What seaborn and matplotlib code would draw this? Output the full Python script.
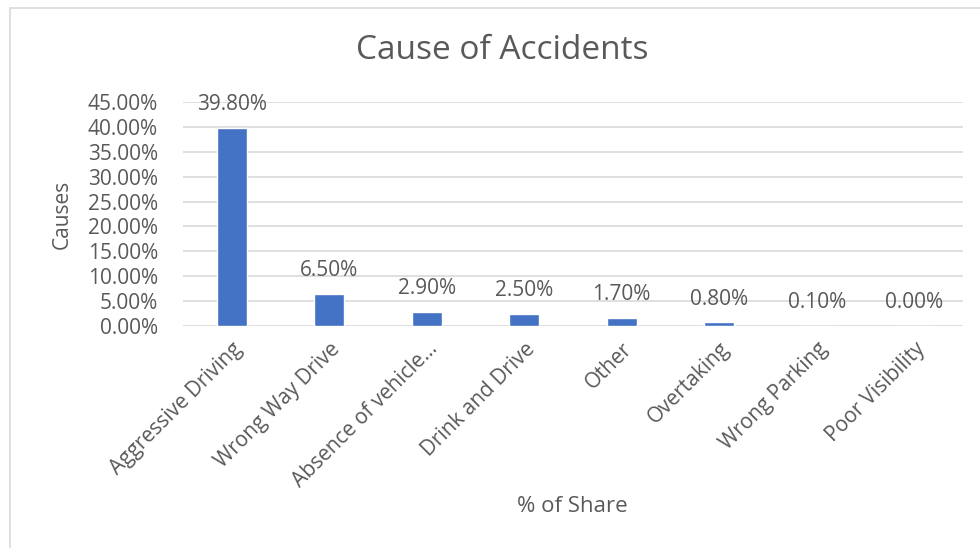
import matplotlib
matplotlib.use("Agg")
import matplotlib.pyplot as plt
from matplotlib.patches import Rectangle
from matplotlib.ticker import FuncFormatter, MultipleLocator
import seaborn as sns
import pandas as pd

# Share of accidents by cause (percent)
causes = ["Aggressive Driving", "Wrong Way Drive", "Absence of vehicle…",
          "Drink and Drive", "Other", "Overtaking", "Wrong Parking",
          "Poor Visibility"]
shares = [39.80, 6.50, 2.90, 2.50, 1.70, 0.80, 0.10, 0.00]

df = pd.DataFrame({"cause": causes, "share": shares})

sns.set_theme(style="white")
plt.rcParams["font.family"] = ["Open Sans", "DejaVu Sans"]

TEXT = "#595959"
GRID = "#d9d9d9"
BAR = "#4472c4"

fig = plt.figure(figsize=(9.8, 5.48), dpi=100)
ax = fig.add_axes([183 / 980, 1 - 326 / 548, (963 - 183) / 980, (326 - 102) / 548])

sns.barplot(data=df, x="cause", y="share", order=causes, color=BAR,
            width=0.31, saturation=1, ax=ax)

ax.set_ylim(0, 45)
ax.set_xlim(-0.5, len(causes) - 0.5)
ax.yaxis.set_major_locator(MultipleLocator(5))
ax.yaxis.set_major_formatter(FuncFormatter(lambda v, _: f"{v:.2f}%"))
ax.grid(axis="y", color=GRID, linewidth=1.2)
ax.set_axisbelow(True)
for s in ax.spines.values():
    s.set_visible(False)

ax.tick_params(axis="y", length=0, pad=18, labelsize=15, labelcolor=TEXT)
ax.tick_params(axis="x", length=0, pad=9, labelsize=15, labelcolor=TEXT)
plt.setp(ax.get_xticklabels(), rotation=45, ha="right", rotation_mode="anchor")

# value labels above each bar
for i, v in enumerate(shares):
    ax.annotate(f"{v:.2f}%", (i, v), xytext=(0, 9), textcoords="offset points",
                ha="center", va="bottom", fontsize=15, color=TEXT)

ax.set_xlabel("% of Share", fontsize=16, color=TEXT)
ax.set_ylabel("Causes", fontsize=15, color=TEXT)
ax.xaxis.set_label_coords((572 - 183) / (963 - 183), -(506 - 326) / (326 - 102))
ax.yaxis.set_label_coords(-(183 - 62) / (963 - 183), (326 - 214) / (326 - 102))
ax.xaxis.label.set_va("center")
ax.yaxis.label.set_va("center")

fig.text(502 / 980, 1 - 50 / 548, "Cause of Accidents", ha="center", va="center",
         fontsize=24, color=TEXT)

# chart frame
fig.patches.append(Rectangle((10 / 980, -0.1), 1.2, 1 - 8 / 548 + 0.1,
                             transform=fig.transFigure, fill=False,
                             edgecolor=GRID, linewidth=1.2))

fig.savefig("out.png", dpi=100, facecolor="white")
